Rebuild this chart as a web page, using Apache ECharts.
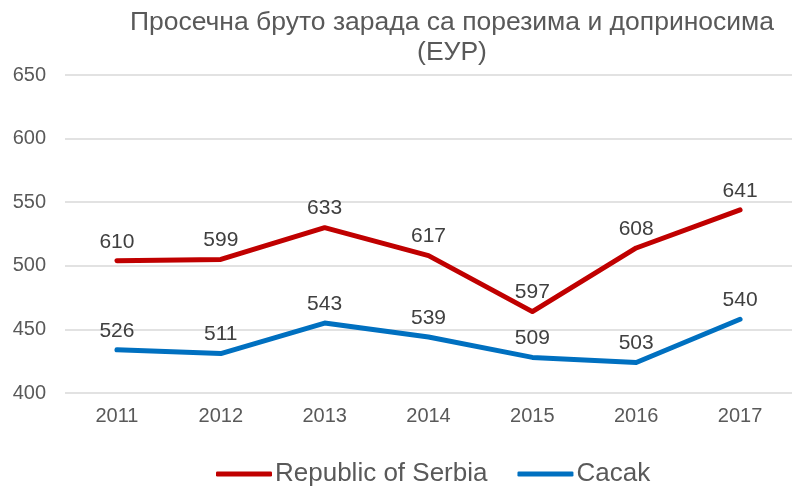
<!DOCTYPE html>
<html>
<head>
<meta charset="utf-8">
<script src="https://cdn.jsdelivr.net/npm/echarts@6/dist/echarts.min.js"></script>
<style>
    html, body { margin: 0; padding: 0; background: #fff; }
    #chart { width: 792px; height: 486px; }
</style>
</head>
<body>
<div id="chart"></div>
<script>
    // године
    const years = ['2011', '2012', '2013', '2014', '2015', '2016', '2017'];
    // положај линија како је нацртан на графику
    const serbiaPlot = [504, 505, 530, 508, 464, 514, 544];
    const cacakPlot = [434, 431, 455, 444, 428, 424, 458];
    // вредности исписане изнад тачака
    const serbiaLabels = [610, 599, 633, 617, 597, 608, 641];
    const cacakLabels = [526, 511, 543, 539, 509, 503, 540];
    const yTicks = [400, 450, 500, 550, 600, 650];

    const font = '"Liberation Sans", Arial, sans-serif';
    const textColor = '#595959';

    function lineSeries(name, color, values, labels) {
        return {
            'name': name,
            'type': 'line',
            'data': values,
            'symbol': 'circle',
            'symbolSize': 1,
            'itemStyle': { 'color': color },
            'lineStyle': { 'color': color, 'width': 5, 'cap': 'round', 'join': 'round' },
            'label': {
                'show': true,
                'position': 'top',
                'distance': 8,
                'fontFamily': font,
                'fontSize': 21,
                'color': '#404040',
                'formatter': (p) => labels[p.dataIndex]
            },
            'animation': false
        };
    }

    let myChart = echarts.init(document.getElementById('chart'), null, { renderer: 'canvas' });
    myChart.setOption({
        'title': {
            'text': 'Просечна бруто зарада са порезима и доприносима\n(ЕУР)',
            'left': 447,
            'top': 3,
            'textAlign': 'center',
            'textStyle': {
                'fontFamily': font,
                'fontSize': 26.5,
                'fontWeight': 'normal',
                'color': textColor,
                'lineHeight': 30
            }
        },
        'legend': {
            'data': ['Republic of Serbia', 'Cacak'],
            'left': 211,
            'top': 456,
            'icon': 'roundRect',
            'itemWidth': 56,
            'itemHeight': 5,
            'itemGap': 30,
            'textStyle': {
                'fontFamily': font,
                'fontSize': 26,
                'color': textColor,
                'padding': [0, 0, 0, -2]
            }
        },
        'grid': {
            'left': 65,
            'right': -10,
            'top': 75,
            'bottom': 93,
            'containLabel': false
        },
        'xAxis': {
            'type': 'category',
            'data': years,
            'axisLine': { 'show': false },
            'axisTick': { 'show': false },
            'axisLabel': {
                'fontFamily': font,
                'fontSize': 20,
                'color': textColor,
                'margin': 13
            }
        },
        'yAxis': {
            'type': 'value',
            'min': yTicks[0],
            'max': yTicks[yTicks.length - 1],
            'interval': 50,
            'axisLine': { 'show': false },
            'axisTick': { 'show': false },
            'axisLabel': {
                'fontFamily': font,
                'fontSize': 20,
                'color': textColor,
                'margin': 19
            },
            'splitLine': {
                'lineStyle': { 'color': '#D9D9D9', 'width': 1.5 }
            }
        },
        'series': [
            lineSeries('Republic of Serbia', '#C00000', serbiaPlot, serbiaLabels),
            lineSeries('Cacak', '#0070C0', cacakPlot, cacakLabels)
        ]
    });
</script>
</body>
</html>
